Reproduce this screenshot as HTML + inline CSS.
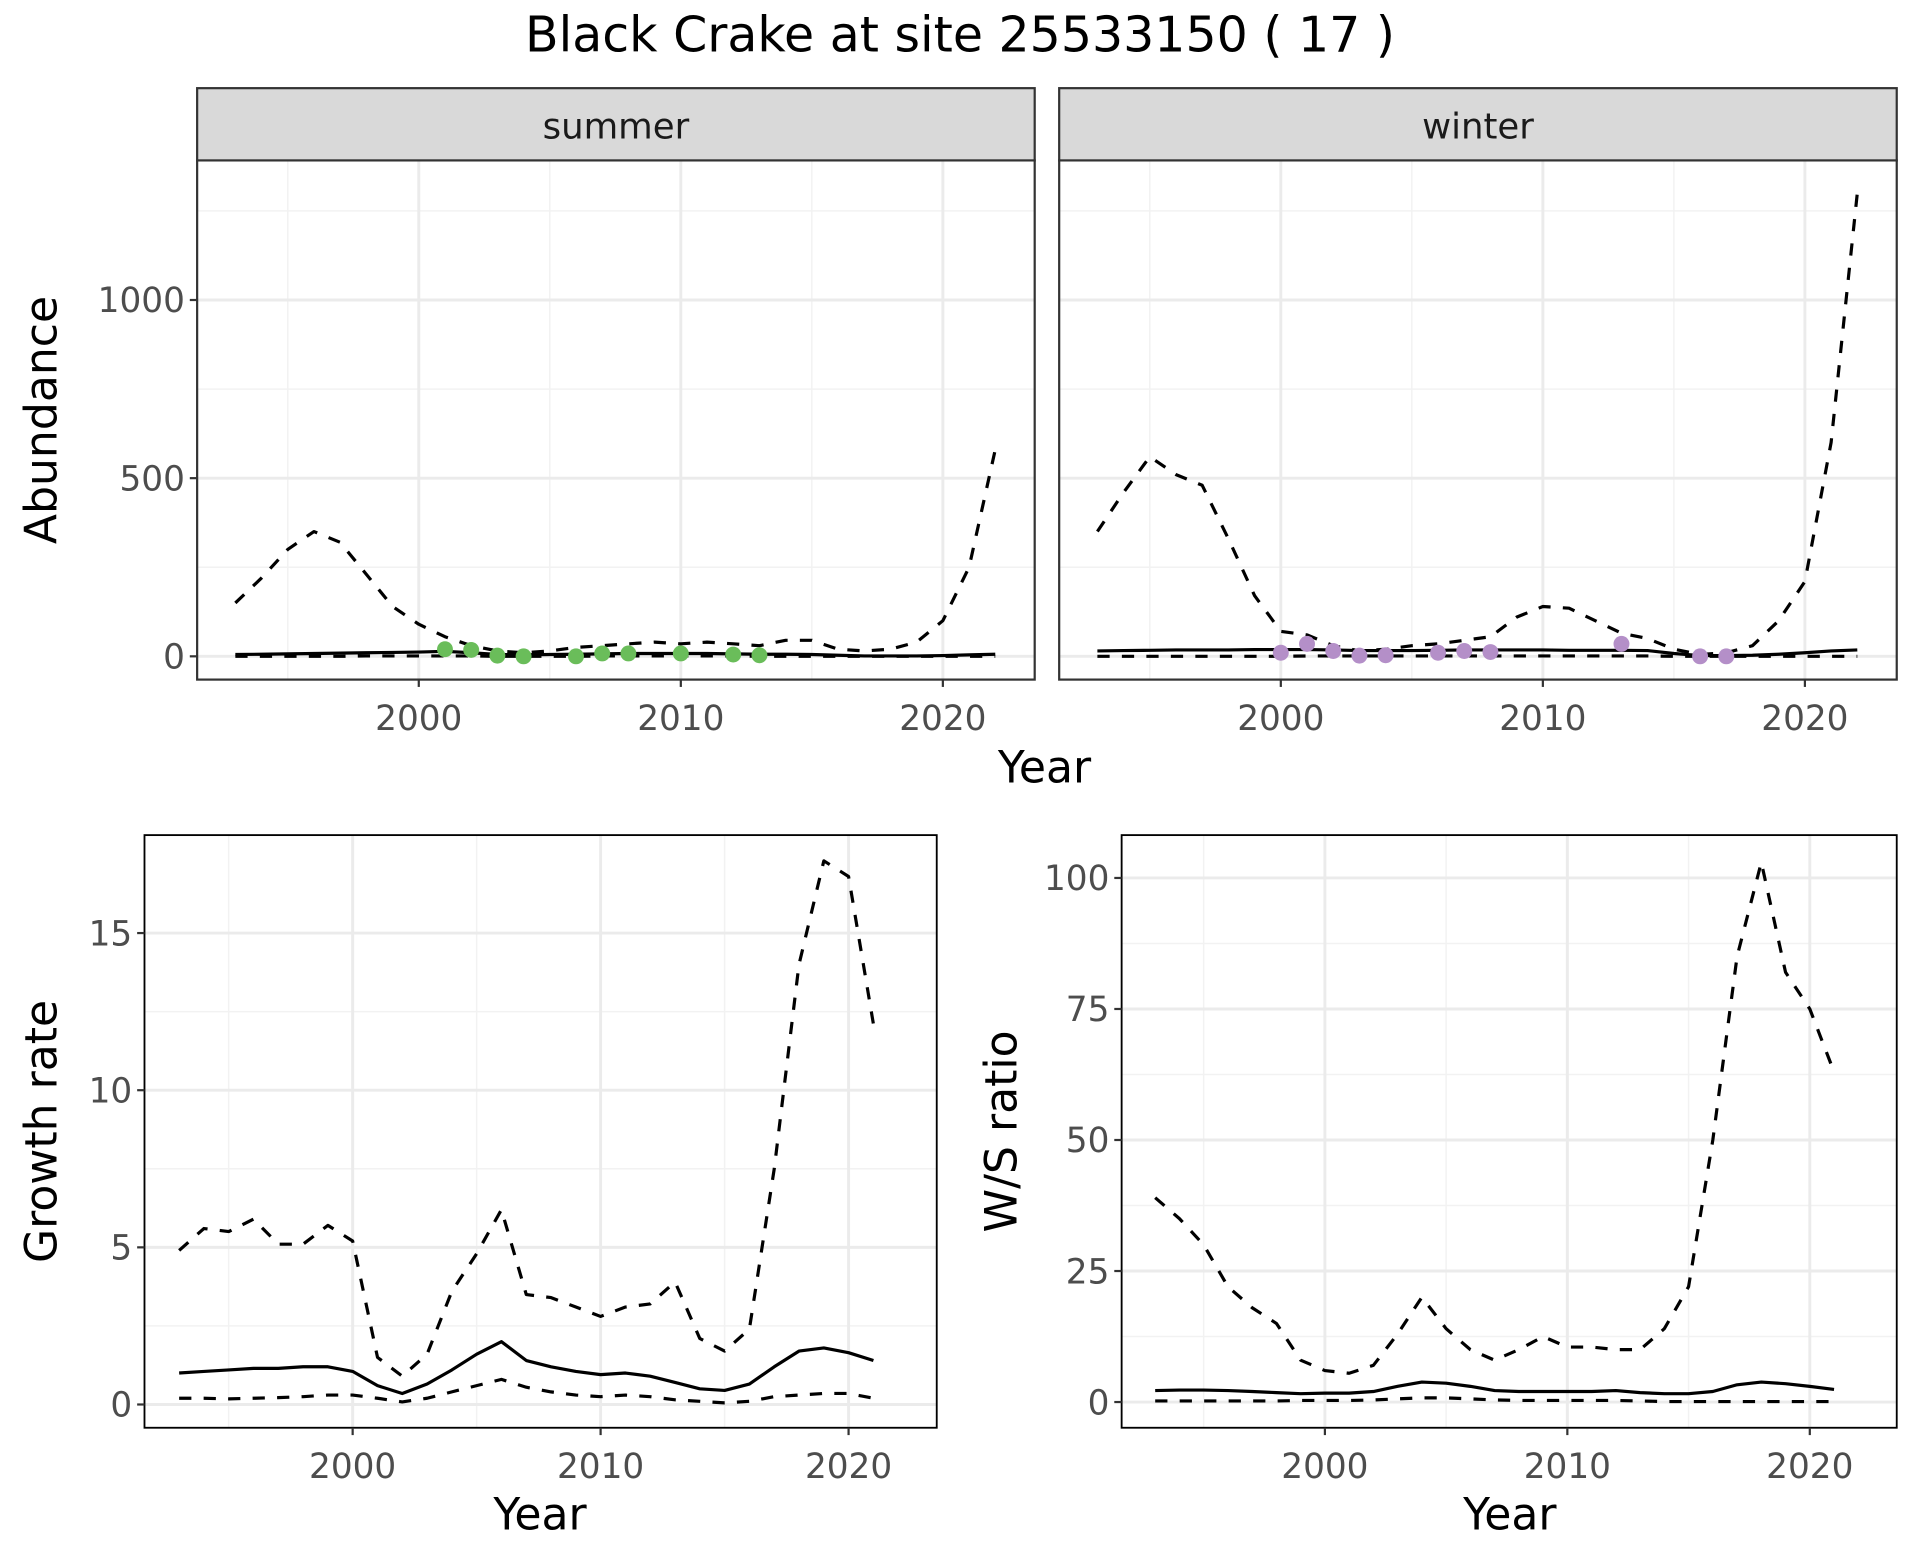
<!DOCTYPE html>
<html><head><meta charset="utf-8"><style>
html,body{margin:0;padding:0;background:#fff;}
svg{display:block;font-family:"DejaVu Sans","Liberation Sans",sans-serif;}
</style></head><body>
<svg id="chart" width="1920" height="1560" viewBox="0 0 1568 1274" xmlns="http://www.w3.org/2000/svg">
<text x="784" y="42" font-size="40" text-anchor="middle" fill="#000">Black Crake at site 25533150 ( 17 )</text>
</svg>
<script>
const years = [];
for (let y = 1993; y <= 2022; y++) years.push(y);
const sumUpper = [150,220,300,350,320,230,140,90,55,30,15,10,15,25,30,35,40,35,40,35,30,45,45,20,15,20,40,100,250,580];
const sumMid = [5,6,7,8,9,10,11,12,14,10,5,4,5,6,7,8,8,8,8,7,6,6,5,3,1,1,1,2,4,6];
const sumLower = [0,0,0,0,0,1,1,1,1,1,0,0,0,0,1,1,1,1,1,1,0,0,0,0,0,0,0,0,0,0];
const sumPtYears = [2001,2002,2003,2004,2006,2007,2008,2010,2012,2013];
const sumPtVals = [20,18,2,0,0,8,8,8,5,3];
const winUpper = [350,460,560,510,480,330,170,70,60,30,15,20,30,35,45,55,110,140,135,100,65,50,20,5,10,30,100,210,600,1300];
const winMid = [15,16,17,18,18,18,19,19,19,18,16,16,16,17,18,18,18,18,17,17,17,16,8,2,2,3,6,10,15,18];
const winLower = [0,0,0,0,0,0,0,0,1,1,1,1,1,1,1,1,1,1,1,1,1,1,0,0,0,0,0,0,0,0];
const winPtYears = [2000,2001,2002,2003,2004,2006,2007,2008,2013,2016,2017];
const winPtVals = [10,35,15,2,3,10,15,12,35,0,0];
const yrs2 = years.slice(0,29);
const grUpper = [4.9,5.6,5.5,5.9,5.1,5.1,5.7,5.2,1.5,0.9,1.6,3.6,4.8,6.2,3.5,3.4,3.1,2.8,3.1,3.2,3.9,2.1,1.7,2.4,7.5,14,17.3,16.8,12.1];
const grMid = [1.0,1.05,1.1,1.15,1.15,1.2,1.2,1.05,0.6,0.35,0.65,1.1,1.6,2.0,1.4,1.2,1.05,0.95,1.0,0.9,0.7,0.5,0.45,0.65,1.2,1.7,1.8,1.65,1.4];
const grLower = [0.2,0.2,0.18,0.2,0.22,0.25,0.3,0.3,0.2,0.08,0.2,0.4,0.6,0.8,0.55,0.4,0.3,0.25,0.3,0.25,0.15,0.1,0.05,0.1,0.25,0.3,0.35,0.35,0.2];
const wsUpper = [39,35,30,22,18,15,8,6,5.5,7,13,20,14,10,8,10,12.5,10.5,10.5,10,10,14,22,50,85,103,82,75,63];
const wsMid = [2.2,2.3,2.3,2.2,2.0,1.8,1.6,1.7,1.7,2.0,3.0,3.8,3.6,3.0,2.2,2.0,2.0,2.0,2.0,2.2,1.8,1.6,1.6,2.0,3.3,3.8,3.5,3.0,2.4];
const wsLower = [0.2,0.2,0.2,0.2,0.2,0.2,0.3,0.3,0.3,0.4,0.6,0.8,0.8,0.6,0.4,0.3,0.3,0.3,0.3,0.3,0.2,0.1,0.1,0.1,0.1,0.1,0.1,0.1,0.1];
const xTicks = [2000,2010,2020];
const abTicks = [0,500,1000];
const grTicks = [0,5,10,15];
const wsTicks = [0,25,50,75,100];

const NS = "http://www.w3.org/2000/svg";
const svg = document.getElementById('chart');
function el(tag, attrs, parent, text){
  const e = document.createElementNS(NS, tag);
  for (const k in attrs) e.setAttribute(k, attrs[k]);
  if (text !== undefined) e.textContent = text;
  (parent || svg).appendChild(e);
  return e;
}
function lin(d0,d1,r0,r1){ return v => r0 + (v-d0)/(d1-d0)*(r1-r0); }

function panel(cfg){
  const g = el('g', {});
  
  
  const {x0,x1,y0,y1,sx,sy} = cfg;
  cfg.xMinor.forEach(v => { el('line',{x1:sx(v),x2:sx(v),y1:y0,y2:y1,stroke:'#f2f2f2','stroke-width':1.2},g); });
  cfg.yMinor.forEach(v => { el('line',{x1:x0,x2:x1,y1:sy(v),y2:sy(v),stroke:'#f2f2f2','stroke-width':1.2},g); });
  xTicks.forEach(v => { el('line',{x1:sx(v),x2:sx(v),y1:y0,y2:y1,stroke:'#ebebeb','stroke-width':2.4},g); });
  cfg.yTicks.forEach(v => { el('line',{x1:x0,x2:x1,y1:sy(v),y2:sy(v),stroke:'#ebebeb','stroke-width':2.4},g); });
  cfg.series.forEach(s => {
    const d = s.ys.map((v,i)=> (i?'L':'M')+sx(s.xs[i]).toFixed(1)+','+sy(v).toFixed(1)).join(' ');
    const p = el('path',{d:d,fill:'none',stroke:'#000','stroke-width':2.6,'stroke-dasharray':s.dash?'10,10':'none','stroke-linejoin':'round'},g);
    
    
  });
  if (cfg.pts){
    cfg.pts.ys.forEach((v,i) => {
      const c = el('circle',{cx:sx(cfg.pts.xs[i]),cy:sy(v),r:6.5,fill:cfg.pts.color},g);
      
      
    });
  }
  el('rect',{x:x0,y:y0,width:x1-x0,height:y1-y0,fill:'none',stroke:cfg.border,'stroke-width':cfg.bw},g);
  xTicks.forEach(v => {
    el('line',{x1:sx(v),x2:sx(v),y1:y1,y2:y1+6,stroke:'#333','stroke-width':1.8},g);
    const t = el('text',{x:sx(v),y:y1+41,'font-size':28,'text-anchor':'middle',fill:'#4d4d4d'},g,String(v));
    
    
  });
  if (cfg.showY){
    cfg.yTicks.forEach(v => {
      el('line',{x1:x0-6,x2:x0,y1:sy(v),y2:sy(v),stroke:'#333','stroke-width':1.8},g);
      const t = el('text',{x:x0-10,y:sy(v)+10,'font-size':28,'text-anchor':'end',fill:'#4d4d4d'},g,String(v));
      
      
    });
  }
}

const syAb = lin(0,1000,536,245);
const sxS = lin(2000,2020,342,770);
const sxW = lin(2000,2020,1046,1474);
const topMinorY = [250,750,1250];
panel({name:'summer-panel',x0:161,x1:845,y0:131,y1:555,sx:sxS,sy:syAb,xMinor:[1995,2005,2015],yMinor:topMinorY,yTicks:abTicks,showY:true,border:'#333',bw:1.8,
  series:[{xs:years,ys:sumUpper,dash:true,name:'summer-upper-bound'},{xs:years,ys:sumMid,dash:false,name:'summer-estimate'},{xs:years,ys:sumLower,dash:true,name:'summer-lower-bound'}],
  pts:{xs:sumPtYears,ys:sumPtVals,color:'#6abd5a'}});
panel({name:'winter-panel',x0:865,x1:1549,y0:131,y1:555,sx:sxW,sy:syAb,xMinor:[1995,2005,2015],yMinor:topMinorY,yTicks:abTicks,showY:false,border:'#333',bw:1.8,
  series:[{xs:years,ys:winUpper,dash:true,name:'winter-upper-bound'},{xs:years,ys:winMid,dash:false,name:'winter-estimate'},{xs:years,ys:winLower,dash:true,name:'winter-lower-bound'}],
  pts:{xs:winPtYears,ys:winPtVals,color:'#b48fc8'}});
[['summer',161,845],['winter',865,1549]].forEach(s=>{
  const r = el('rect',{x:s[1],y:72,width:s[2]-s[1],height:59,fill:'#d9d9d9',stroke:'#333','stroke-width':1.8});
  
  
  el('text',{x:(s[1]+s[2])/2,y:113,'font-size':29,'text-anchor':'middle',fill:'#1a1a1a'},svg,s[0]);
});
panel({name:'growth-rate-panel',x0:118,x1:765,y0:682,y1:1166,sx:lin(2000,2020,288,693),sy:lin(0,15,1147,762),xMinor:[1995,2005,2015],yMinor:[2.5,7.5,12.5],yTicks:grTicks,showY:true,border:'#000',bw:1.5,
  series:[{xs:yrs2,ys:grUpper,dash:true,name:'growth-upper-bound'},{xs:yrs2,ys:grMid,dash:false,name:'growth-estimate'},{xs:yrs2,ys:grLower,dash:true,name:'growth-lower-bound'}]});
panel({name:'ws-ratio-panel',x0:916,x1:1549,y0:682,y1:1166,sx:lin(2000,2020,1082,1478),sy:lin(0,100,1145,717),xMinor:[1995,2005,2015],yMinor:[12.5,37.5,62.5,87.5],yTicks:wsTicks,showY:true,border:'#000',bw:1.5,
  series:[{xs:yrs2,ys:wsUpper,dash:true,name:'ws-upper-bound'},{xs:yrs2,ys:wsMid,dash:false,name:'ws-estimate'},{xs:yrs2,ys:wsLower,dash:true,name:'ws-lower-bound'}]});
function title(txt,x,y,rot,name){
  const t = el('text',{x:x,y:y,'font-size':36,'text-anchor':'middle',fill:'#000',transform:rot?`rotate(-90 ${x} ${y})`:''},svg,txt);
  
  
}
title('Year',853,639,false,'top-x-axis-title');
title('Abundance',46,343,true,'abundance-axis-title');
title('Year',441,1249,false,'growth-x-axis-title');
title('Year',1233,1249,false,'ws-x-axis-title');
title('Growth rate',46,924,true,'growth-rate-axis-title');
title('W/S ratio',830,924,true,'ws-ratio-axis-title');
</script>
</body></html>
